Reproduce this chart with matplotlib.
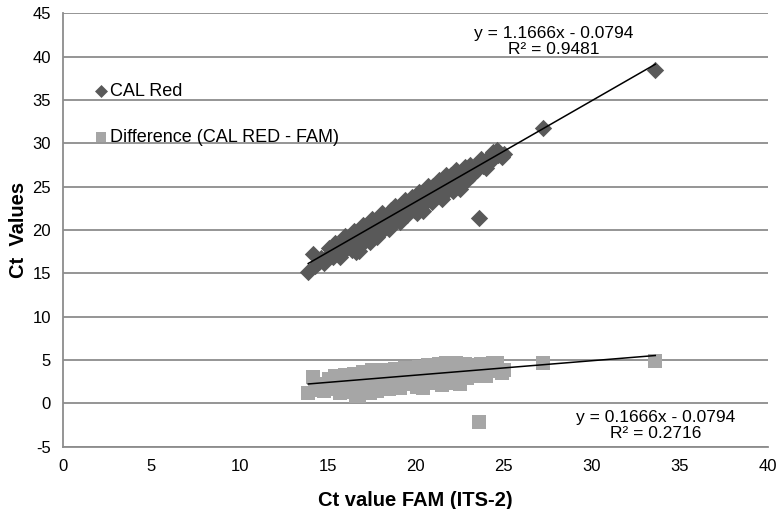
import matplotlib as mpl
mpl.use('Agg')
import matplotlib.pyplot as plt
import numpy as np

plt.rcParams['font.family'] = ['Liberation Sans', 'DejaVu Sans']
plt.rcParams['axes.unicode_minus'] = False

# Ct value FAM (ITS-2) and the CAL Red - FAM difference
fam = [13.9, 14.2, 14.3, 14.5, 14.6, 14.8, 15.0, 15.1, 15.3, 15.4, 15.6, 15.7, 15.9, 16.0,
       16.1, 16.3, 16.4, 16.5, 16.6, 16.7, 16.8, 16.9, 17.0, 17.1, 17.2, 17.3, 17.4, 17.5,
       17.6, 17.7, 17.8, 17.9, 18.0, 18.1, 18.2, 18.3, 18.4, 18.5, 18.6, 18.7, 18.8, 18.9,
       19.0, 19.1, 19.2, 19.3, 19.4, 19.5, 19.6, 19.7, 19.8, 19.9, 20.0, 20.1, 20.2, 20.3,
       20.4, 20.5, 20.6, 20.7, 20.8, 20.9, 21.0, 21.1, 21.2, 21.3, 21.4, 21.5, 21.6, 21.7,
       21.8, 21.9, 22.0, 22.1, 22.2, 22.3, 22.4, 22.5, 22.6, 22.7, 22.8, 22.9, 23.0, 23.1,
       23.2, 23.4, 23.5, 23.6, 23.7, 23.8, 24.0, 24.1, 24.3, 24.4, 24.6, 24.7, 24.9, 25.0,
       27.2, 33.6]
diff = [1.2, 3.0, 1.5, 1.8, 2.2, 1.4, 2.0, 2.8, 1.6, 3.1, 2.3, 1.2, 2.7, 3.3,
        1.8, 2.5, 1.3, 3.4, 0.9, 2.1, 0.8, 2.9, 3.6, 1.6, 2.4, 3.1, 1.2, 3.8,
        2.0, 2.8, 1.4, 3.5, 2.3, 3.9, 1.9, 2.7, 3.3, 1.6, 3.7, 2.5, 4.0, 2.1,
        3.2, 1.8, 3.8, 2.6, 4.1, 2.2, 3.4, 2.9, 4.0, 2.4, 3.6, 1.9, 4.2, 3.0,
        1.8, 3.8, 2.6, 4.4, 3.2, 2.3, 4.1, 3.5, 2.8, 4.5, 3.1, 2.1, 3.9, 4.6,
        2.7, 3.4, 4.3, 2.4, 3.7, 4.6, 3.0, 2.2, 4.1, 3.5, 4.5, 2.9, 3.8, 4.4,
        3.2, 4.0, 3.4, -2.2, 4.5, 3.6, 3.1, 4.2, 3.7, 4.6, 4.6, 3.9, 3.5, 3.8,
        4.6, 4.9]
cal_red = [15.1, 17.2, 15.8, 16.3, 16.8, 16.2, 17.0, 17.9, 16.9, 18.5, 17.9, 16.9, 18.6, 19.3,
           17.9, 18.8, 17.7, 19.9, 17.5, 18.8, 17.6, 19.8, 20.6, 18.7, 19.6, 20.4, 18.6, 21.3,
           19.6, 20.5, 19.2, 21.4, 20.3, 22.0, 20.1, 21.0, 21.7, 20.1, 22.3, 21.2, 22.8, 21.0,
           22.2, 20.9, 23.0, 21.9, 23.5, 21.7, 23.0, 22.6, 23.8, 22.3, 23.6, 22.0, 24.4, 23.3,
           22.2, 24.3, 23.2, 25.1, 24.0, 23.2, 25.1, 24.6, 24.0, 25.8, 24.5, 23.6, 25.5, 26.3,
           24.5, 25.3, 26.3, 24.5, 25.9, 26.9, 25.4, 24.7, 26.7, 26.2, 27.3, 25.8, 26.8, 27.5,
           26.4, 27.4, 26.9, 21.4, 28.2, 27.4, 27.1, 28.3, 28.0, 29.0, 29.2, 28.6, 28.4, 28.8,
           31.8, 38.5]

# trendline coefficients as printed on the chart
fit_red = (1.1666, -0.0794, 0.9481)
fit_diff = (0.1666, -0.0794, 0.2716)

fig = plt.figure(figsize=(7.79, 5.09), dpi=100)
ax = fig.add_axes([0.0813, 0.1224, 0.9046, 0.8515])

ax.scatter(fam, cal_red, marker='D', s=78, color='#595959', linewidths=0, zorder=3, label='CAL Red')
ax.scatter(fam, diff, marker='s', s=95, color='#a6a6a6', linewidths=0, zorder=3,
           label='Difference (CAL RED - FAM)')

xs = np.array([min(fam), max(fam)])
ax.plot(xs, fit_red[0] * xs + fit_red[1], color='black', lw=1.1, zorder=4)
ax.plot(xs, fit_diff[0] * xs + fit_diff[1], color='black', lw=1.1, zorder=4)

ax.text(27.85, 41.75, 'y = %.4fx - %.4f\nR² = %.4f' % (fit_red[0], -fit_red[1], fit_red[2]),
        ha='center', va='center', fontsize=12.5, linespacing=1.15)
ax.text(33.6, -2.55, 'y = %.4fx - %.4f\nR² = %.4f' % (fit_diff[0], -fit_diff[1], fit_diff[2]),
        ha='center', va='center', fontsize=12.5, linespacing=1.15)

ax.set_xlim(0, 40)
ax.set_ylim(-5, 45)
ax.set_xticks(range(0, 41, 5))
ax.set_yticks(range(-5, 46, 5))
ax.yaxis.grid(True, color='#8c8c8c', lw=1.3)
ax.set_axisbelow(True)
for side in ['top', 'right']:
    ax.spines[side].set_visible(False)
for side in ['left', 'bottom']:
    ax.spines[side].set_color('#8c8c8c')
    ax.spines[side].set_linewidth(1.3)
ax.tick_params(length=0, labelsize=12, pad=9)

ax.set_xlabel('Ct value FAM (ITS-2)', fontsize=14.5, fontweight='bold', labelpad=12)
ax.set_ylabel('Ct  Values', fontsize=14.5, fontweight='bold', labelpad=3)

ax.legend(loc='upper left', bbox_to_anchor=(0.122, 0.837), bbox_transform=fig.transFigure,
          frameon=False, fontsize=13, handlelength=0.7, handletextpad=0.15,
          labelspacing=1.6, borderpad=0, borderaxespad=0, markerscale=0.75)

fig.savefig('out.png', dpi=100)
plt.close()
